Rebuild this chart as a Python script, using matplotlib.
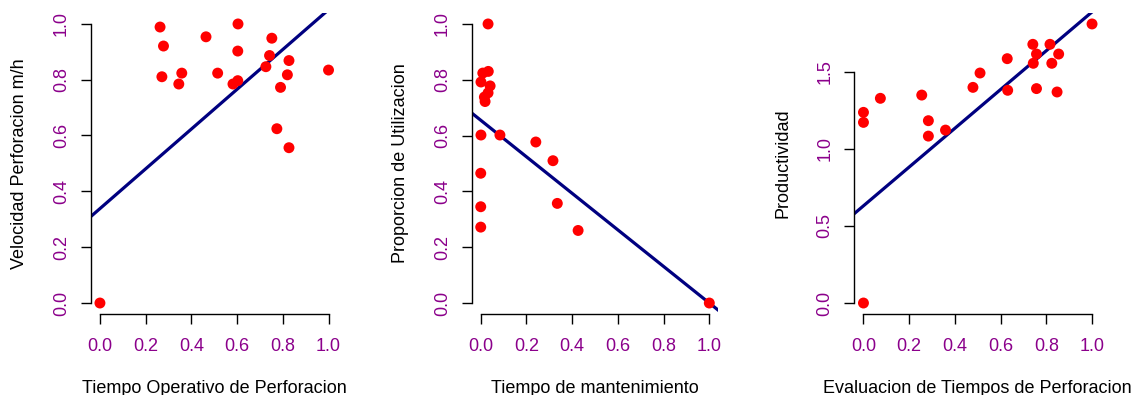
import matplotlib
matplotlib.use("Agg")
import matplotlib.pyplot as plt
import numpy as np

plt.rcParams["font.family"] = ["Liberation Sans", "DejaVu Sans"]

# Panel 1: Tiempo Operativo vs Velocidad
tiempo_operativo = [0.0, 0.263, 0.278, 0.271, 0.345, 0.358, 0.464, 0.515, 0.604, 0.603,
                    0.582, 0.603, 0.752, 0.742, 0.726, 0.827, 0.820, 0.790, 0.774, 0.827, 1.0]
velocidad = [0.0, 0.988, 0.920, 0.810, 0.784, 0.823, 0.953, 0.823, 0.999, 0.902,
             0.784, 0.796, 0.948, 0.886, 0.846, 0.868, 0.817, 0.772, 0.624, 0.556, 0.834]
recta_velocidad = (0.338, 0.712)  # intercepto, pendiente

# Panel 2: Tiempo de mantenimiento vs Proporcion de Utilizacion
tiempo_mant = [0.032, 0.033, 0.009, 0.001, 0.041, 0.032, 0.016, 0.019, 0.001, 0.084,
               0.241, 0.316, 0.0, 0.335, 0.0, 0.0, 0.426, 1.0]
utilizacion = [1.0, 0.830, 0.824, 0.792, 0.778, 0.753, 0.738, 0.722, 0.602, 0.602,
               0.577, 0.510, 0.465, 0.357, 0.345, 0.272, 0.260, 0.0]
recta_utilizacion = (0.655, -0.655)

# Panel 3: Evaluacion de Tiempos vs Productividad
evaluacion = [1.0, 0.741, 0.816, 0.757, 0.854, 0.629, 0.743, 0.824, 0.510, 0.479,
              0.631, 0.757, 0.847, 0.074, 0.255, 0.0, 0.0, 0.284, 0.359, 0.284, 0.0]
productividad = [1.809, 1.677, 1.677, 1.614, 1.614, 1.584, 1.554, 1.554, 1.491, 1.398,
                 1.379, 1.390, 1.368, 1.327, 1.348, 1.236, 1.171, 1.182, 1.121, 1.082, 0.0]
recta_productividad = (0.630, 1.257)

paneles = [
    (tiempo_operativo, velocidad, recta_velocidad,
     "Tiempo Operativo de Perforacion", "Velocidad Perforacion m/h",
     [0.0, 0.2, 0.4, 0.6, 0.8, 1.0], 0.0800),
    (tiempo_mant, utilizacion, recta_utilizacion,
     "Tiempo de mantenimiento", "Proporcion de Utilizacion",
     [0.0, 0.2, 0.4, 0.6, 0.8, 1.0], 0.4155),
    (evaluacion, productividad, recta_productividad,
     "Evaluacion de Tiempos de Perforacion", "Productividad",
     [0.0, 0.5, 1.0, 1.5], 0.7527),
]

purple = "#8B008B"
fig = plt.figure(figsize=(11.35, 3.95), dpi=100)

for x, y, (b0, b1), xlab, ylab, yticks, left in paneles:
    ax = fig.add_axes([left, 0.2046, 0.2175, 0.7630])
    x = np.array(x)
    y = np.array(y)
    ymax = y.max()
    ax.set_xlim(-0.04, 1.04)
    ax.set_ylim(-0.04 * ymax, 1.04 * ymax)

    ax.scatter(x, y, s=62, color="#FF0000", edgecolors="none", zorder=3)
    xs = np.array([-0.1, 1.2])
    ax.plot(xs, b0 + b1 * xs, color="#000080", linewidth=2.3, zorder=2)

    for side in ["top", "right"]:
        ax.spines[side].set_visible(False)
    ax.spines["left"].set_bounds(yticks[0], yticks[-1])
    ax.spines["bottom"].set_bounds(0.0, 1.0)
    ax.spines["left"].set_linewidth(1.0)
    ax.spines["bottom"].set_linewidth(1.0)

    ax.set_xticks([0.0, 0.2, 0.4, 0.6, 0.8, 1.0])
    ax.set_xticklabels([f"{v:.1f}" for v in [0.0, 0.2, 0.4, 0.6, 0.8, 1.0]])
    ax.set_yticks(yticks)
    ax.set_yticklabels([f"{v:.1f}" for v in yticks], rotation=90, va="center")
    ax.tick_params(axis="both", length=7, width=1.0, labelsize=13,
                   labelcolor=purple, color="black")
    ax.tick_params(axis="x", pad=10)
    ax.tick_params(axis="y", pad=8)

    ax.set_xlabel(xlab, fontsize=13, color="black")
    ax.xaxis.set_label_coords(0.5, -0.245)
    ax.xaxis.label.set_va("center")
    ax.set_ylabel(ylab, fontsize=13, color="black")
    ax.yaxis.set_label_coords(-0.29, 0.5)
    ax.yaxis.label.set_va("center")

fig.savefig("out.png", dpi=100)
